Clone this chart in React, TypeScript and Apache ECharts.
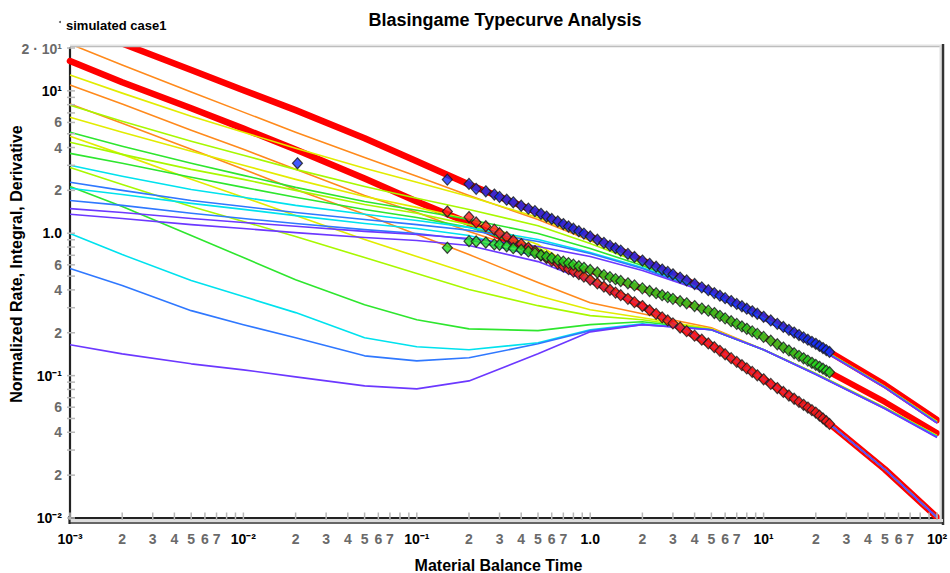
import React, { useEffect, useRef } from "react";
import * as echarts from "echarts";

const FONT = '"Liberation Sans", Arial, Helvetica, sans-serif';

// ---------- axis ticks / labels ----------
const X_MAJOR_TICKS = [0.001, 0.01, 0.1, 1, 10, 100];
const X_MAJOR_LABELS = ["10⁻³", "10⁻²", "10⁻¹", "1.0", "10¹", "10²"];
const X_MINOR_LABELED = [2, 3, 4, 5, 6, 7];
const Y_MAJOR_TICKS = [0.01, 0.1, 1, 10];
const Y_MAJOR_LABELS = ["10⁻²", "10⁻¹", "1.0", "10¹"];
const Y_MINOR_LABELED = [2, 4, 6];
const Y_TOP_VALUE = 20;
const Y_TOP_LABEL = "2 · 10¹";
const TICK_MULTS = [1, 2, 3, 4, 5, 6, 7, 8, 9];

// ---------- matched type curves (thick red) ----------
const MATCH_INTEGRAL_X = [0.002, 0.005, 0.01, 0.02, 0.05, 0.1, 0.2, 0.5, 1, 2, 5, 10, 20, 50, 100];
const MATCH_INTEGRAL_Y = [21.5, 14.0, 10.1, 7.32, 4.65, 3.2, 2.2, 1.4, 0.949, 0.643, 0.389, 0.259, 0.167, 0.0861, 0.0488];
const CURVE_X = [0.001, 0.002, 0.005, 0.01, 0.02, 0.05, 0.1, 0.2, 0.5, 1, 2, 5, 10, 20, 50, 100];
const MATCH_RATE_Y = [16.2, 11.5, 7.55, 5.43, 3.87, 2.42, 1.67, 1.18, 0.714, 0.471, 0.308, 0.163, 0.0942, 0.055, 0.022, 0.0101];
const MATCH_DERIV_X = [0.35, 0.5, 0.7, 1, 2, 5, 10, 20, 50, 100];
const MATCH_DERIV_Y = [0.89, 0.71, 0.62, 0.547, 0.408, 0.281, 0.187, 0.119, 0.0653, 0.0395];

// ---------- type-curve families (thin) : integral, rate, derivative ----------
const F1_I = [21.35, 15.18, 9.8, 7.09, 5.12, 3.41, 2.51, 1.84, 1.25, 0.889, 0.612, 0.376, 0.253, 0.163, 0.0838, 0.0476];
const F1_R = [10.98, 8.07, 5.29, 3.89, 2.81, 1.84, 1.4, 1.03, 0.708, 0.465, 0.308, 0.163, 0.0942, 0.055, 0.022, 0.0101];
const F1_D = [8.07, 5.93, 3.89, 2.81, 2.03, 1.36, 0.98, 0.708, 0.45, 0.325, 0.272, 0.217, 0.1518, 0.1035, 0.0598, 0.038];

const F2_I = [12.91, 9.64, 6.64, 5.12, 3.95, 2.86, 2.28, 1.81, 1.29, 0.904, 0.612, 0.376, 0.252, 0.1625, 0.0835, 0.0474];
const F2_R = [6.53, 5.12, 3.76, 3.0, 2.39, 1.81, 1.52, 1.25, 0.833, 0.488, 0.308, 0.163, 0.0942, 0.055, 0.022, 0.0101];
const F2_D = [4.8, 3.58, 2.39, 1.79, 1.33, 0.904, 0.686, 0.521, 0.364, 0.29, 0.255, 0.213, 0.1518, 0.1032, 0.0596, 0.0378];

const F3_I = [7.93, 6.12, 4.43, 3.53, 2.81, 2.13, 1.76, 1.47, 1.13, 0.847, 0.612, 0.376, 0.251, 0.162, 0.0833, 0.0472];
const F3_R = [4.36, 3.58, 2.81, 2.39, 2.0, 1.59, 1.38, 1.15, 0.794, 0.48, 0.308, 0.163, 0.0942, 0.055, 0.022, 0.0101];
const F3_D = [2.9, 2.2, 1.54, 1.21, 0.949, 0.675, 0.521, 0.402, 0.31, 0.264, 0.247, 0.21, 0.1518, 0.1029, 0.0593, 0.0376];

const F4_I = [5.12, 4.08, 3.1, 2.55, 2.1, 1.67, 1.45, 1.25, 0.996, 0.781, 0.593, 0.376, 0.25, 0.1615, 0.0831, 0.047];
const F4_R = [3.64, 3.1, 2.47, 2.1, 1.79, 1.47, 1.29, 1.1, 0.768, 0.48, 0.308, 0.163, 0.0942, 0.055, 0.022, 0.0101];
const F4_D = [2.13, 1.54, 0.964, 0.675, 0.472, 0.315, 0.247, 0.213, 0.207, 0.228, 0.239, 0.21, 0.1518, 0.1026, 0.0591, 0.0374];

const F5_I = [3.0, 2.51, 2.03, 1.79, 1.57, 1.36, 1.23, 1.1, 0.904, 0.732, 0.574, 0.376, 0.249, 0.161, 0.0829, 0.0468];
const F5_R = [2.07, 1.87, 1.62, 1.47, 1.33, 1.17, 1.08, 0.964, 0.72, 0.472, 0.308, 0.163, 0.0942, 0.055, 0.022, 0.0101];
const F5_D = [0.996, 0.708, 0.465, 0.359, 0.277, 0.1845, 0.1594, 0.1518, 0.17, 0.21, 0.231, 0.21, 0.1518, 0.1023, 0.0589, 0.0372];

const F6_I = [2.28, 2.0, 1.7, 1.54, 1.4, 1.25, 1.15, 1.05, 0.875, 0.72, 0.565, 0.376, 0.248, 0.1605, 0.0827, 0.0466];
const F6_R = [1.7, 1.57, 1.38, 1.27, 1.17, 1.06, 0.996, 0.904, 0.686, 0.465, 0.308, 0.163, 0.0942, 0.055, 0.022, 0.0101];
const F6_D = [0.565, 0.429, 0.286, 0.228, 0.1845, 0.1377, 0.127, 0.1334, 0.1674, 0.207, 0.228, 0.21, 0.1518, 0.102, 0.0587, 0.037];

const F7_I = [1.49, 1.4, 1.27, 1.19, 1.12, 1.03, 0.98, 0.918, 0.807, 0.686, 0.547, 0.376, 0.247, 0.16, 0.0825, 0.0464];
const F7_R = [1.36, 1.27, 1.15, 1.08, 1.01, 0.933, 0.889, 0.82, 0.632, 0.457, 0.308, 0.163, 0.0942, 0.055, 0.022, 0.0101];
const F7_D = [0.1646, 0.1422, 0.121, 0.1098, 0.098, 0.0847, 0.0807, 0.0918, 0.1422, 0.203, 0.228, 0.21, 0.1518, 0.1017, 0.0585, 0.0368];

const FAMILY_CURVES = [
  [F1_I, F1_R, F1_D],
  [F2_I, F2_R, F2_D],
  [F3_I, F3_R, F3_D],
  [F4_I, F4_R, F4_D],
  [F5_I, F5_R, F5_D],
  [F6_I, F6_R, F6_D],
  [F7_I, F7_R, F7_D],
];
const FAMILY_COLORS = ["#ff8a1c", "#e2ec00", "#a8f800", "#2ee62e", "#00e2ee", "#2f78ff", "#6c38ff"];

// ---------- measured data ----------
const DATA_T = [0.15, 0.2, 0.22, 0.25, 0.28, 0.3, 0.33, 0.36, 0.4, 0.44, 0.48, 0.52, 0.56, 0.6, 0.65, 0.7, 0.75, 0.8, 0.86, 0.92, 1.0, 1.1, 1.2, 1.3, 1.4, 1.5, 1.65, 1.8, 2.0, 2.2, 2.4, 2.6, 2.8, 3.0, 3.3, 3.6, 4.0, 4.4, 4.8, 5.2, 5.6, 6.0, 6.5, 7.0, 7.5, 8.0, 8.6, 9.2, 10, 11, 12, 13, 14, 15, 16, 17, 18, 19, 20, 21, 22, 23, 24];
const INTEGRAL_DATA = [2.38, 2.22, 2.05, 1.97, 1.87, 1.8, 1.72, 1.65, 1.56, 1.49, 1.43, 1.37, 1.31, 1.26, 1.21, 1.16, 1.115, 1.076, 1.033, 0.994, 0.949, 0.9, 0.856, 0.818, 0.785, 0.755, 0.716, 0.682, 0.643, 0.61, 0.582, 0.556, 0.535, 0.515, 0.488, 0.466, 0.44, 0.417, 0.398, 0.38, 0.364, 0.35, 0.334, 0.319, 0.307, 0.295, 0.283, 0.272, 0.259, 0.244, 0.231, 0.2196, 0.2096, 0.2007, 0.1927, 0.1855, 0.1788, 0.1727, 0.1673, 0.1615, 0.1562, 0.1511, 0.1466];
const INTEGRAL_OUTLIER = [0.0205, 3.1];
const RATE_DATA = [1.42, 1.3, 1.19, 1.12, 1.06, 1.0, 0.94, 0.89, 0.84, 0.79, 0.75, 0.7, 0.668, 0.64, 0.61, 0.584, 0.56, 0.538, 0.516, 0.495, 0.471, 0.444, 0.421, 0.401, 0.383, 0.367, 0.346, 0.328, 0.308, 0.288, 0.2714, 0.2567, 0.244, 0.2326, 0.2177, 0.2053, 0.1908, 0.1788, 0.1683, 0.1583, 0.1493, 0.1413, 0.1326, 0.125, 0.1183, 0.1124, 0.1062, 0.1005, 0.0942, 0.0875, 0.0818, 0.0768, 0.0725, 0.0688, 0.0654, 0.0624, 0.0597, 0.0572, 0.055, 0.0524, 0.05, 0.0478, 0.0458];
const DERIV_DATA = [0.79, 0.88, 0.875, 0.86, 0.835, 0.83, 0.81, 0.785, 0.765, 0.745, 0.725, 0.7, 0.685, 0.668, 0.65, 0.632, 0.617, 0.602, 0.587, 0.572, 0.552, 0.53, 0.508, 0.492, 0.476, 0.462, 0.445, 0.43, 0.41, 0.393, 0.379, 0.367, 0.356, 0.346, 0.333, 0.322, 0.308, 0.296, 0.286, 0.275, 0.263, 0.2525, 0.241, 0.2307, 0.2215, 0.2133, 0.2045, 0.1964, 0.187, 0.1758, 0.1661, 0.1575, 0.1502, 0.1436, 0.1377, 0.1323, 0.1275, 0.123, 0.119, 0.1153, 0.1118, 0.1085, 0.1056];

const pairs = (xs: number[], ys: number[]) => xs.map((x, i) => [x, ys[i]]);

export default function App() {
  const ref = useRef<HTMLDivElement>(null);

  useEffect(() => {
    if (!ref.current) return;
    const chart = echarts.init(ref.current, null, { renderer: "svg" });

    const series: any[] = [];
    const thick = (data: number[][], width: number) => ({
      type: "line",
      data,
      symbol: "none",
      smooth: false,
      lineStyle: { color: "#ff0000", width, join: "round", cap: "round" },
      z: 2,
      silent: true,
    });
    series.push(thick(pairs(MATCH_INTEGRAL_X, MATCH_INTEGRAL_Y), 6.5));
    series.push(thick(pairs(CURVE_X, MATCH_RATE_Y), 6.5));
    series.push(thick(pairs(MATCH_DERIV_X, MATCH_DERIV_Y), 6));

    FAMILY_CURVES.forEach((fam, fi) => {
      fam.forEach((ys) => {
        series.push({
          type: "line",
          data: pairs(CURVE_X, ys),
          symbol: "none",
          smooth: false,
          lineStyle: { color: FAMILY_COLORS[fi], width: 1.6, join: "round" },
          z: 3,
          silent: true,
        });
      });
    });

    const pts = (data: number[][], color: string) => ({
      type: "scatter",
      data,
      symbol: "diamond",
      symbolSize: [10, 11],
      itemStyle: { color, borderColor: "#1a1a1a", borderWidth: 1.2 },
      z: 4,
      silent: true,
    });
    series.push(pts(pairs(DATA_T, RATE_DATA), "#ff1a1a"));
    series.push(pts(pairs(DATA_T, DERIV_DATA), "#22dd22"));
    series.push(pts([INTEGRAL_OUTLIER, ...pairs(DATA_T, INTEGRAL_DATA)], "#1030ff"));

    chart.setOption({
      animation: false,
      backgroundColor: "#ffffff",
      grid: { left: 70, top: 48, width: 867, height: 470, containLabel: false },
      xAxis: {
        type: "log",
        logBase: 10,
        min: 0.001,
        max: 100,
        axisLine: { show: true, onZero: false, lineStyle: { color: "#222", width: 2 } },
        axisTick: { show: false },
        axisLabel: { show: false },
        splitLine: { show: false },
      },
      yAxis: {
        type: "log",
        logBase: 10,
        min: 0.01,
        max: 20,
        axisLine: { show: true, onZero: false, lineStyle: { color: "#222", width: 2.2 } },
        axisTick: { show: false },
        axisLabel: { show: false },
        splitLine: { show: false },
      },
      series,
    });

    const gx = (v: number) => chart.convertToPixel({ xAxisIndex: 0 }, v) as number;
    const gy = (v: number) => chart.convertToPixel({ yAxisIndex: 0 }, v) as number;
    const x0 = gx(0.001);
    const x1 = gx(100);
    const yb = gy(0.01);
    const yt = gy(20);

    const els: any[] = [];
    const txt = (x: number, y: number, text: string, font: string, fill: string, align: string, valign = "middle", rotation = 0) => ({
      type: "text",
      x,
      y,
      rotation,
      silent: true,
      style: { text, font, fill, align, verticalAlign: valign, textAlign: align, textVerticalAlign: valign },
      z: 10,
    });
    const line = (xa: number, ya: number, xb: number, yb2: number, stroke: string, lineWidth: number) => ({
      type: "line",
      silent: true,
      shape: { x1: xa, y1: ya, x2: xb, y2: yb2 },
      style: { stroke, lineWidth },
      z: 9,
    });

    // frame
    els.push(line(x0, yt - 3, x1 + 4, yt - 3, "#f0f0f0", 2));
    els.push(line(x0, yt - 1.5, x1 + 3, yt - 1.5, "#bdbdbd", 1.5));
    els.push(line(x1 + 3.5, yt - 3, x1 + 3.5, yb + 5, "#e0e0e0", 2));
    els.push(line(x1 + 6, yt - 4, x1 + 6, yb + 7, "#333", 2.5));
    els.push(line(x0 - 1, yb + 2.5, x1 + 6, yb + 2.5, "#dcdcdc", 3));
    els.push(line(x0 - 1, yb + 5, x1 + 6, yb + 5, "#333", 1.6));
    els.push(line(x0 - 0.5, yb - 2, x0 - 0.5, yb + 6, "#222", 2.2));

    // x ticks and labels
    X_MAJOR_TICKS.forEach((d, di) => {
      const mults = d === 100 ? [1] : TICK_MULTS;
      mults.forEach((m) => {
        const x = gx(d * m);
        els.push(line(x, yb - 5.5, x, yb + 2, "#b8b8b8", 1.5));
        if (m === 1) {
          els.push(txt(x, yb + 21, X_MAJOR_LABELS[di], `bold 14px ${FONT}`, "#000", "center"));
        } else if (X_MINOR_LABELED.indexOf(m) >= 0) {
          els.push(txt(x, yb + 21, String(m), `bold 14px ${FONT}`, "#6a6a6a", "center"));
        }
      });
    });

    // y ticks and labels
    Y_MAJOR_TICKS.forEach((d, di) => {
      TICK_MULTS.forEach((m) => {
        const v = d * m;
        if (v >= Y_TOP_VALUE) return;
        const y = gy(v);
        els.push(line(x0 - 3, y, x0 + 5, y, "#b8b8b8", 1.5));
        if (m === 1) {
          els.push(txt(x0 - 8, y, Y_MAJOR_LABELS[di], `bold 14px ${FONT}`, "#000", "right"));
        } else if (Y_MINOR_LABELED.indexOf(m) >= 0) {
          els.push(txt(x0 - 8, y, String(m), `bold 14px ${FONT}`, "#6a6a6a", "right"));
        }
      });
    });
    els.push(line(x0 - 3, gy(Y_TOP_VALUE), x0 + 5, gy(Y_TOP_VALUE), "#b8b8b8", 1.5));
    els.push(txt(x0 - 8, gy(Y_TOP_VALUE) + 1, Y_TOP_LABEL, `bold 14px ${FONT}`, "#6a6a6a", "right"));

    // titles
    els.push(txt(505, 20, "Blasingame Typecurve Analysis", `bold 18px ${FONT}`, "#000", "center"));
    els.push(txt(66, 25, "simulated case1", `bold 13px ${FONT}`, "#000", "left"));
    els.push({ type: "circle", silent: true, shape: { cx: 60, cy: 22, r: 1 }, style: { fill: "#555" }, z: 10 });
    els.push(txt((x0 + x1) / 2 - 5, 565, "Material Balance Time", `bold 16px ${FONT}`, "#000", "center"));
    els.push(txt(16, 264, "Normalized Rate, Integral, Derivative", `bold 16px ${FONT}`, "#000", "center", "middle", Math.PI / 2));

    chart.setOption({ graphic: { elements: els } });

    return () => {
      chart.dispose();
    };
  }, []);

  return (
    <div
      ref={ref}
      style={{ position: "fixed", left: 0, top: 0, width: 950, height: 573, background: "#fff" }}
    />
  );
}
